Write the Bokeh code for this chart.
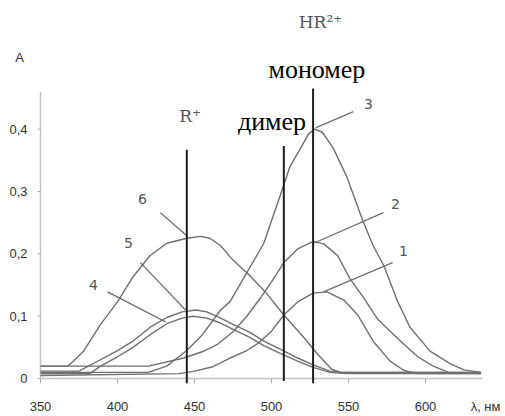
from bokeh.plotting import figure
from bokeh.models import Range1d, FixedTicker, Label
from bokeh.embed import file_html
from bokeh.resources import INLINE

# ---- data (wavelength nm, absorbance) ----
wl_1 = [350, 440, 450, 462, 473, 484, 491, 500, 508, 517, 527, 536, 547, 556, 566, 577, 586, 595, 636]
a_1 = [0.005, 0.008, 0.012, 0.019, 0.033, 0.045, 0.056, 0.076, 0.102, 0.123, 0.137, 0.139, 0.126, 0.102, 0.06, 0.028, 0.013, 0.008, 0.008]

wl_2 = [350, 420, 443, 455, 465, 475, 484, 493, 500, 508, 517, 527, 534, 543, 551, 560, 569, 577, 586, 595, 605, 615, 636]
a_2 = [0.02, 0.02, 0.033, 0.043, 0.055, 0.075, 0.1, 0.13, 0.155, 0.186, 0.208, 0.22, 0.216, 0.197, 0.16, 0.129, 0.095, 0.076, 0.055, 0.035, 0.02, 0.01, 0.008]

wl_3 = [350, 420, 432, 445, 455, 467, 473, 484, 495, 506, 512, 519, 524, 528, 533, 540, 549, 559, 566, 573, 582, 590, 603, 616, 625, 636]
a_3 = [0.01, 0.01, 0.02, 0.045, 0.07, 0.11, 0.123, 0.17, 0.217, 0.296, 0.34, 0.37, 0.392, 0.40, 0.395, 0.37, 0.323, 0.255, 0.213, 0.181, 0.123, 0.082, 0.044, 0.024, 0.014, 0.01]

wl_4 = [350, 382, 389, 400, 410, 421, 432, 442, 449, 458, 466, 475, 486, 495, 506, 517, 527, 538, 548, 636]
a_4 = [0.008, 0.008, 0.02, 0.035, 0.05, 0.07, 0.088, 0.097, 0.1, 0.097, 0.09, 0.079, 0.066, 0.053, 0.04, 0.028, 0.018, 0.01, 0.008, 0.008]

wl_5 = [350, 375, 385, 400, 410, 421, 432, 442, 451, 458, 466, 475, 486, 495, 506, 517, 527, 538, 545, 636]
a_5 = [0.012, 0.012, 0.025, 0.045, 0.06, 0.082, 0.098, 0.107, 0.11, 0.107, 0.098, 0.087, 0.074, 0.06, 0.047, 0.033, 0.022, 0.012, 0.01, 0.01]

wl_6 = [350, 368, 378, 389, 400, 410, 421, 432, 445, 454, 460, 467, 475, 486, 496, 508, 521, 530, 539, 545, 636]
a_6 = [0.02, 0.02, 0.044, 0.087, 0.123, 0.163, 0.197, 0.217, 0.225, 0.228, 0.225, 0.213, 0.19, 0.165, 0.139, 0.102, 0.066, 0.039, 0.015, 0.01, 0.01]

# vertical marker lines: R+, dimer, monomer
marker_wl = [445, 508, 527]
marker_bottom = [-0.008, -0.004, -0.008]
marker_top = [0.367, 0.373, 0.465]

# curve number labels and leader lines
num_text = ["1", "2", "3", "4", "5", "6"]
num_x = [585.7, 580.5, 563.0, 384.4, 407.1, 416.2]
num_y = [0.205, 0.280, 0.441, 0.150, 0.217, 0.288]
lead_x0 = [533.8, 527.3, 528.6, 431.2, 444.2, 445.5]
lead_y0 = [0.139, 0.217, 0.402, 0.091, 0.110, 0.228]
lead_x1 = [578.6, 572.7, 553.2, 393.5, 414.9, 427.9]
lead_y1 = [0.186, 0.266, 0.428, 0.139, 0.186, 0.266]

# axes: ticks and their labels (last entries are the axis titles)
x_ticks = [350, 400, 450, 500, 550, 600]
x_tick_labels = ["350", "400", "450", "500", "550", "600"]
x_title_pos = 639
x_title = "λ, нм"
y_ticks = [0, 0.1, 0.2, 0.3, 0.4]
y_tick_labels = ["0", "0,1", "0,2", "0,3", "0,4"]
y_title_pos = 0.515
y_title = "A\u00a0"

x_axis_end = 637
y_axis_end = 0.46
x_tick_low = -0.0079
y_tick_low = 348.05

p = figure(width=505, height=416, output_backend="svg", toolbar_location=None,
           x_range=Range1d(348.05, 648.7), y_range=Range1d(-0.00787, 0.6031),
           min_border_left=37, min_border_right=5, min_border_top=2, min_border_bottom=26)
p.outline_line_color = None
p.grid.visible = False

p.xaxis.ticker = FixedTicker(ticks=x_ticks + [x_title_pos])
p.xaxis.major_label_overrides = dict(zip(x_ticks + [x_title_pos], x_tick_labels + [x_title]))
p.xaxis.axis_line_color = None
p.xaxis.major_tick_line_color = None
p.xaxis.minor_tick_line_color = None
p.xaxis.major_label_standoff = 9
p.xaxis.major_label_text_font = "Liberation Sans"
p.xaxis.major_label_text_font_size = "13px"
p.xaxis.major_label_text_color = "#333333"

p.yaxis.ticker = FixedTicker(ticks=y_ticks + [y_title_pos])
p.yaxis.major_label_overrides = dict(zip(y_ticks + [y_title_pos], y_tick_labels + [y_title]))
p.yaxis.axis_line_color = None
p.yaxis.major_tick_line_color = None
p.yaxis.minor_tick_line_color = None
p.yaxis.major_label_standoff = 4
p.yaxis.major_label_text_font = "Liberation Sans"
p.yaxis.major_label_text_font_size = "13px"
p.yaxis.major_label_text_color = "#333333"

axis_color = "#c4c4c4"
# axis lines and tick marks
p.segment(x0=[350], y0=[0], x1=[x_axis_end], y1=[0], line_color=axis_color, line_width=1.5)
p.segment(x0=[350], y0=[0], x1=[350], y1=[y_axis_end], line_color=axis_color, line_width=1.5)
p.segment(x0=x_ticks, y0=[x_tick_low] * len(x_ticks), x1=x_ticks, y1=[0] * len(x_ticks),
          line_color="#aaaaaa", line_width=1)
p.segment(x0=[y_tick_low] * len(y_ticks), y0=y_ticks, x1=[350] * len(y_ticks), y1=y_ticks,
          line_color="#aaaaaa", line_width=1)

curve_color = "#6f6f6f"
for wl, a in [(wl_1, a_1), (wl_2, a_2), (wl_3, a_3), (wl_4, a_4), (wl_5, a_5), (wl_6, a_6)]:
    p.line(wl, a, line_color=curve_color, line_width=1.4, line_join="round")

p.segment(x0=lead_x0, y0=lead_y0, x1=lead_x1, y1=lead_y1, line_color=curve_color, line_width=1.3)

p.segment(x0=marker_wl, y0=marker_bottom, x1=marker_wl, y1=marker_top, line_color="#1e1e1e", line_width=2)

for t, x, y in zip(num_text, num_x, num_y):
    p.add_layout(Label(x=x, y=y, text=t, text_align="center", text_baseline="middle",
                       text_font="DejaVu Sans", text_font_size="14px", text_color="#555555"))

texts = [
    ("HR\u00b2\u207a", 531.8, 0.5717, "DejaVu Serif", "17px", "#555555"),
    ("мономер", 529.5, 0.496, "Liberation Serif", "26px", "#000000"),
    ("димер", 500.3, 0.4126, "Liberation Serif", "26px", "#000000"),
    ("R\u207a", 447.1, 0.4205, "DejaVu Serif", "17px", "#555555"),
]
for t, x, y, f, s, c in texts:
    p.add_layout(Label(x=x, y=y, text=t, text_align="center", text_baseline="middle",
                       text_font=f, text_font_size=s, text_color=c))

open("out.html", "w").write(file_html(p, INLINE))
